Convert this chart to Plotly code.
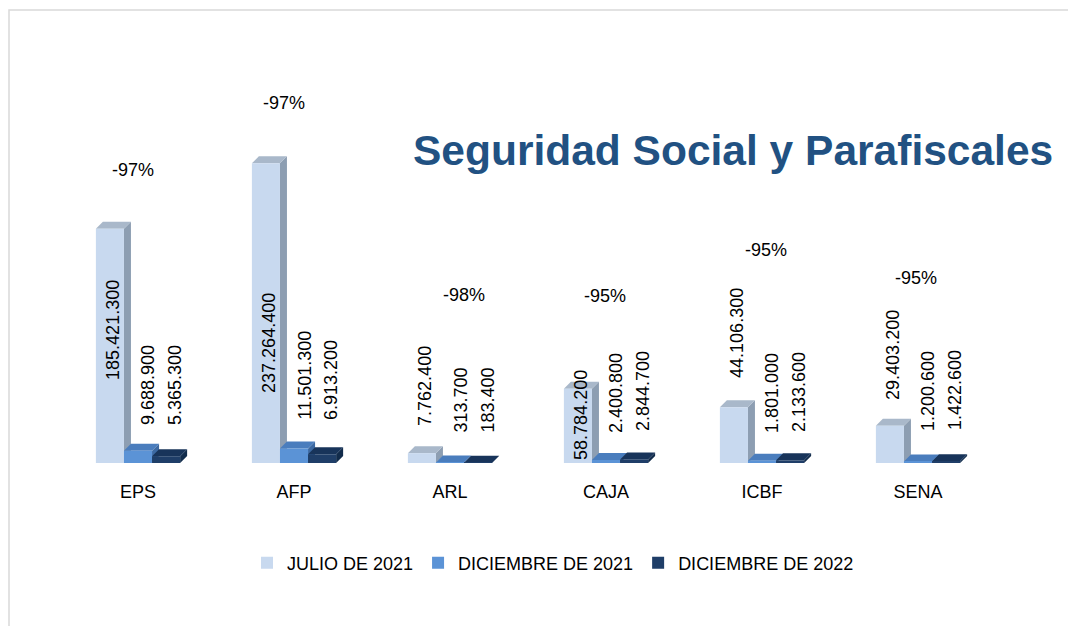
import plotly.graph_objects as go

# ---------------- data ----------------
categories = ["EPS", "AFP", "ARL", "CAJA", "ICBF", "SENA"]
series_names = ["JULIO DE 2021", "DICIEMBRE DE 2021", "DICIEMBRE DE 2022"]
julio_2021 = [185421300, 237264400, 7762400, 58784200, 44106300, 29403200]
diciembre_2021 = [9688900, 11501300, 313700, 2400800, 1801000, 1200600]
diciembre_2022 = [5365300, 6913200, 183400, 2844700, 2133600, 1422600]
series_values = [julio_2021, diciembre_2021, diciembre_2022]

# ---------------- styling / layout ----------------
OFF = 8  # page body margin
W, H = 1076 - OFF, 626 - OFF
ML, MT = 60 - OFF, 84 - OFF
PW, PH = 936, 379
MR, MB = W - ML - PW, H - MT - PH
BASE = MT + PH  # baseline in figure pixels
YMAX = 300e6
BARGAP = 0.46
front_colors = ["#C8D9EF", "#5B93D6", "#1F3E68"]
top_colors = ["#A9B8CA", "#4A7DBD", "#18345A"]
side_colors = ["#8D9EB2", "#3C69A2", "#112B4B"]
FONT = "Liberation Sans, Arial, sans-serif"

# label placement (pixels above the baseline, pixel x shifts)
label_height_px = [
    [81, 68, 35, 1, 83, 61],
    [36, 41, 28, 28, 28, 30],
    [36, 41, 28, 30, 29, 31],
]
label_xshift_px = [3, 10, 9]
pct_height_px = [293, 360, 168, 167, 213, 185]
pct_xshift_px = [-5, -10, 14, -1, 4, -2]

x_idx = list(range(len(categories)))
bar_w = (1 - BARGAP) / 3
px_x = 1 / (PW / len(categories))
px_y = YMAX / PH
DEPTH = 7
dx, dy = DEPTH * px_x, DEPTH * px_y

fig = go.Figure()
for i, (name, vals) in enumerate(zip(series_names, series_values)):
    fig.add_trace(go.Bar(
        x=x_idx, y=vals, name=name,
        marker=dict(color=front_colors[i], line=dict(width=0)),
        hoverinfo="y+name",
    ))

shapes = []
for i, vals in enumerate(series_values):
    for k, v in enumerate(vals):
        cx = k + (i - 1) * bar_w
        x0, x1 = cx - bar_w / 2, cx + bar_w / 2
        side = (f"M {x1:.5f},0 L {x1+dx:.5f},{dy:.3f} L {x1+dx:.5f},{v+dy:.3f} "
                f"L {x1:.5f},{v:.3f} Z")
        top = (f"M {x0:.5f},{v:.3f} L {x0+dx:.5f},{v+dy:.3f} L {x1+dx:.5f},{v+dy:.3f} "
               f"L {x1:.5f},{v:.3f} Z")
        shapes.append(dict(type="path", path=side, xref="x", yref="y", layer="below",
                           fillcolor=side_colors[i], line=dict(width=0)))
        shapes.append(dict(type="path", path=top, xref="x", yref="y", layer="below",
                           fillcolor=top_colors[i], line=dict(width=0)))

# outer frame (light grey), screen px: left 9, top 10
shapes.append(dict(type="rect", xref="paper", yref="paper",
                   x0=(9 - OFF - ML) / PW, x1=1.3, y0=-0.6, y1=(BASE - (10 - OFF)) / PH,
                   line=dict(color="#D9D9D9", width=1.5), fillcolor="rgba(0,0,0,0)",
                   layer="below"))

annotations = []
for i, vals in enumerate(series_values):
    for k, v in enumerate(vals):
        cx = k + (i - 1) * bar_w
        annotations.append(dict(
            x=cx, y=0, xref="x", yref="y", text=f"{v:,}".replace(",", "."),
            textangle=-90, showarrow=False, xanchor="center", yanchor="bottom",
            yshift=label_height_px[i][k], xshift=label_xshift_px[i],
            font=dict(family=FONT, size=18, color="#000000"),
        ))

for k in x_idx:
    pct = round((diciembre_2022[k] - julio_2021[k]) / julio_2021[k] * 100)
    annotations.append(dict(
        x=k, y=0, xref="x", yref="y", text=f"{pct}%", showarrow=False,
        xanchor="center", yanchor="middle", yshift=pct_height_px[k],
        xshift=pct_xshift_px[k], font=dict(family=FONT, size=18, color="#000000"),
    ))

annotations.append(dict(
    x=(733 - OFF - ML) / PW, y=(BASE - (150 - OFF)) / PH, xref="paper", yref="paper",
    text="<b>Seguridad Social y Parafiscales</b>", showarrow=False,
    xanchor="center", yanchor="middle",
    font=dict(family=FONT, size=42.5, color="#215182"),
))

fig.update_layout(
    width=W, height=H,
    margin=dict(l=ML, r=MR, t=MT, b=MB, pad=0),
    paper_bgcolor="white", plot_bgcolor="white",
    barmode="group", bargap=BARGAP, bargroupgap=0,
    shapes=shapes, annotations=annotations,
    showlegend=True,
    legend=dict(orientation="h", x=(553 - OFF - ML) / PW, xanchor="center",
                y=-(563 - OFF - BASE) / PH, yanchor="middle",
                font=dict(family=FONT, size=18, color="#000000"),
                itemwidth=30, traceorder="normal", itemclick=False),
    xaxis=dict(tickmode="array", tickvals=x_idx, ticktext=categories,
               range=[-0.5, len(categories) - 0.5], showgrid=False, zeroline=False,
               showline=False, ticks="outside", ticklen=12, tickcolor="rgba(0,0,0,0)",
               tickfont=dict(family=FONT, size=18, color="#000000")),
    yaxis=dict(range=[0, YMAX], visible=False, showgrid=False, zeroline=False),
    font=dict(family=FONT),
)

fig.write_html("out.html")
